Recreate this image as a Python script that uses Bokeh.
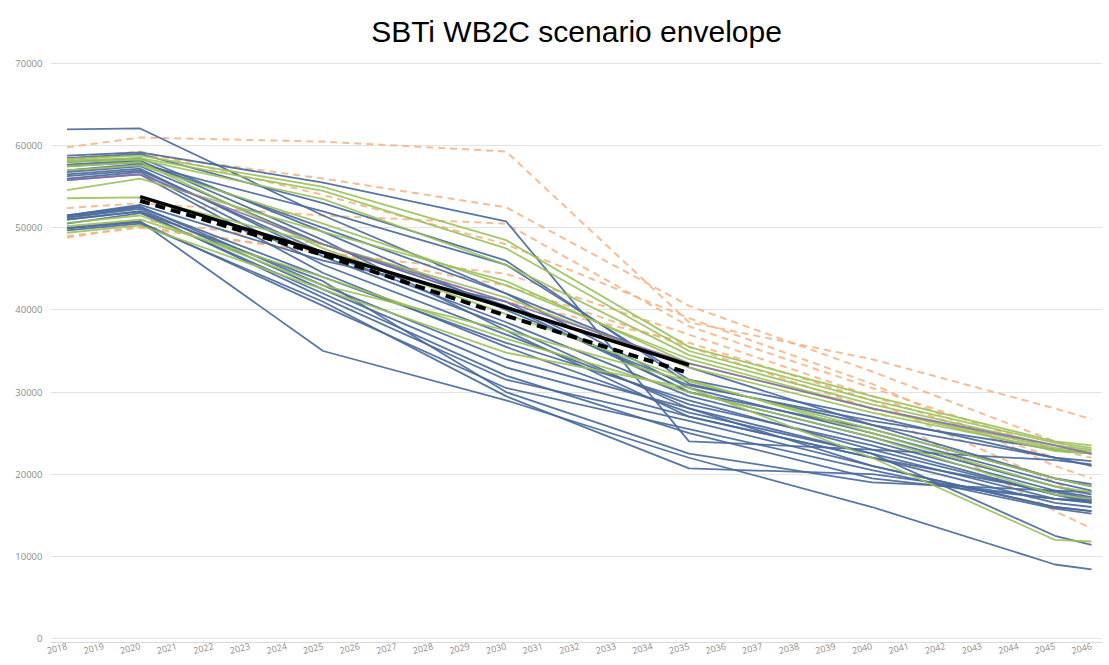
from bokeh.plotting import figure
from bokeh.models import Range1d, FixedTicker, Title
from bokeh.embed import file_html
from bokeh.resources import INLINE

# ---------------- data ----------------
key_years = [2018, 2020, 2025, 2030, 2035, 2040, 2045, 2046]
tick_years = list(range(2018, 2047))
y_ticks = [0, 10000, 20000, 30000, 40000, 50000, 60000, 70000]

blue_series = [
    [62000, 62100, 51500, 42000, 33000, 26000, 19500, 18500],
    [58800, 59200, 55500, 50800, 24000, 23000, 21700, 21200],
    [58500, 59000, 53000, 46000, 31000, 26000, 22000, 21600],
    [57500, 58000, 50000, 42000, 30500, 25000, 19000, 18000],
    [56800, 57500, 48000, 40500, 30000, 24500, 18500, 17500],
    [56300, 57000, 47000, 38500, 29500, 24000, 18000, 17200],
    [56000, 56800, 45500, 37000, 28500, 23500, 17500, 16800],
    [55800, 56500, 44500, 35500, 27500, 22500, 17000, 16500],
    [51500, 52800, 46000, 41000, 30000, 25500, 19500, 18800],
    [51300, 52500, 44000, 36000, 29000, 23000, 17500, 16500],
    [51200, 52300, 42500, 33000, 27000, 22000, 16500, 16000],
    [51000, 52000, 41500, 31500, 26500, 21000, 16000, 15500],
    [49900, 50700, 40500, 30500, 25500, 20500, 15800, 15200],
    [50000, 50800, 35000, 29000, 22000, 16000, 9000, 8400],
    [49700, 50500, 41000, 29500, 20700, 20000, 17000, 16800],
    [57000, 57800, 52000, 45500, 31500, 27000, 22000, 21000],
    [58000, 58500, 49500, 40000, 30800, 26500, 23000, 22500],
    [51500, 52600, 43000, 34000, 28000, 22500, 12500, 11400],
    [56500, 57200, 46500, 38000, 28000, 21000, 16000, 15500],
    [50500, 51800, 42000, 32000, 25000, 19500, 17000, 16600],
    [51000, 52000, 43500, 30000, 22500, 19000, 18000, 17800],
    [57700, 58200, 48500, 37500, 27000, 22000, 17800, 17000],
]

green_series = [
    [58400, 58800, 55000, 48500, 35500, 29500, 24000, 23500],
    [58200, 58500, 54500, 47500, 35000, 29000, 23800, 23200],
    [58000, 58300, 53500, 45500, 34500, 28500, 23500, 23000],
    [54600, 56000, 49500, 43500, 33500, 28000, 23200, 22800],
    [53600, 53700, 48000, 41500, 33000, 27500, 23000, 22500],
    [50600, 51500, 43000, 37500, 31300, 25500, 19500, 18500],
    [49400, 50300, 42500, 34800, 30500, 22000, 12000, 11800],
    [57500, 58000, 47500, 39500, 31500, 25000, 18500, 17800],
    [50200, 51000, 44000, 36500, 30000, 24500, 17500, 17000],
    [57000, 57600, 50500, 43000, 34000, 28000, 22800, 22500],
]

orange_series = [
    [59800, 61000, 60500, 59300, 38500, 34000, 28000, 26700],
    [58200, 59000, 56000, 52500, 40500, 32500, 24000, 22500],
    [52400, 53000, 51500, 50500, 38000, 30500, 23000, 22000],
    [48800, 50200, 47000, 44400, 37000, 29500, 22000, 21000],
    [49000, 50000, 47000, 43000, 35500, 28000, 15500, 13400],
    [50000, 51000, 48000, 41000, 36000, 29000, 19000, 17000],
    [58500, 59300, 54000, 48000, 39000, 31000, 21000, 19500],
]

purple_series = [
    [55800, 56500, 48000, 41000, 33500, 28000, 23500, 22500],
]

black_years = [2020, 2025, 2030, 2035]
black_solid = [53800, 47000, 40300, 33300]
black_dashed = [53300, 46700, 39300, 32300]

# ---------------- figure ----------------
p = figure(width=1102, height=660, output_backend="svg", toolbar_location=None,
           x_range=Range1d(2017.55, 2046.3), y_range=Range1d(-500, 70500),
           min_border_left=50, min_border_right=0, min_border_top=59, min_border_bottom=0)

p.title = Title(text="SBTi WB2C scenario envelope", align="center",
                text_font="Liberation Sans", text_font_size="30px",
                text_font_style="normal", text_color="#000000", standoff=24)

p.outline_line_color = None
p.background_fill_color = "white"
p.border_fill_color = "white"

p.xgrid.grid_line_color = None
p.ygrid.grid_line_color = "#e3e3e3"
p.ygrid.grid_line_width = 1

p.yaxis.ticker = FixedTicker(ticks=y_ticks)
p.yaxis.axis_line_color = None
p.yaxis.major_tick_line_color = None
p.yaxis.minor_tick_line_color = None
p.yaxis.major_tick_out = 0
p.yaxis.major_tick_in = 0
p.yaxis.major_label_text_font = "Open Sans"
p.yaxis.major_label_text_font_size = "9.5px"
p.yaxis.major_label_text_color = "#8c8c8c"
p.yaxis.major_label_standoff = 8

p.xaxis.ticker = FixedTicker(ticks=tick_years)
p.xaxis.axis_line_color = "#d9d9d9"
p.xaxis.major_tick_line_color = None
p.xaxis.minor_tick_line_color = None
p.xaxis.major_tick_out = 0
p.xaxis.major_tick_in = 0
p.xaxis.major_label_text_font = "Open Sans"
p.xaxis.major_label_text_font_size = "9px"
p.xaxis.major_label_text_color = "#8c8c8c"
p.xaxis.major_label_orientation = 0.25
p.xaxis.major_label_standoff = 3

for s in orange_series:
    p.line(key_years, s, line_color="#F4B183", line_width=2, line_dash="7 5", line_alpha=0.85)
for s in blue_series:
    p.line(key_years, s, line_color="#4A6A9C", line_width=1.8, line_alpha=0.92)
for s in green_series:
    p.line(key_years, s, line_color="#9BC15A", line_width=1.8, line_alpha=0.9)
for s in purple_series:
    p.line(key_years, s, line_color="#8A6FA8", line_width=1.8, line_alpha=0.9)

p.line(black_years, black_solid, line_color="black", line_width=3.5)
p.line(black_years, black_dashed, line_color="black", line_width=4, line_dash="10 6")

open("out.html", "w").write(file_html(p, INLINE))
